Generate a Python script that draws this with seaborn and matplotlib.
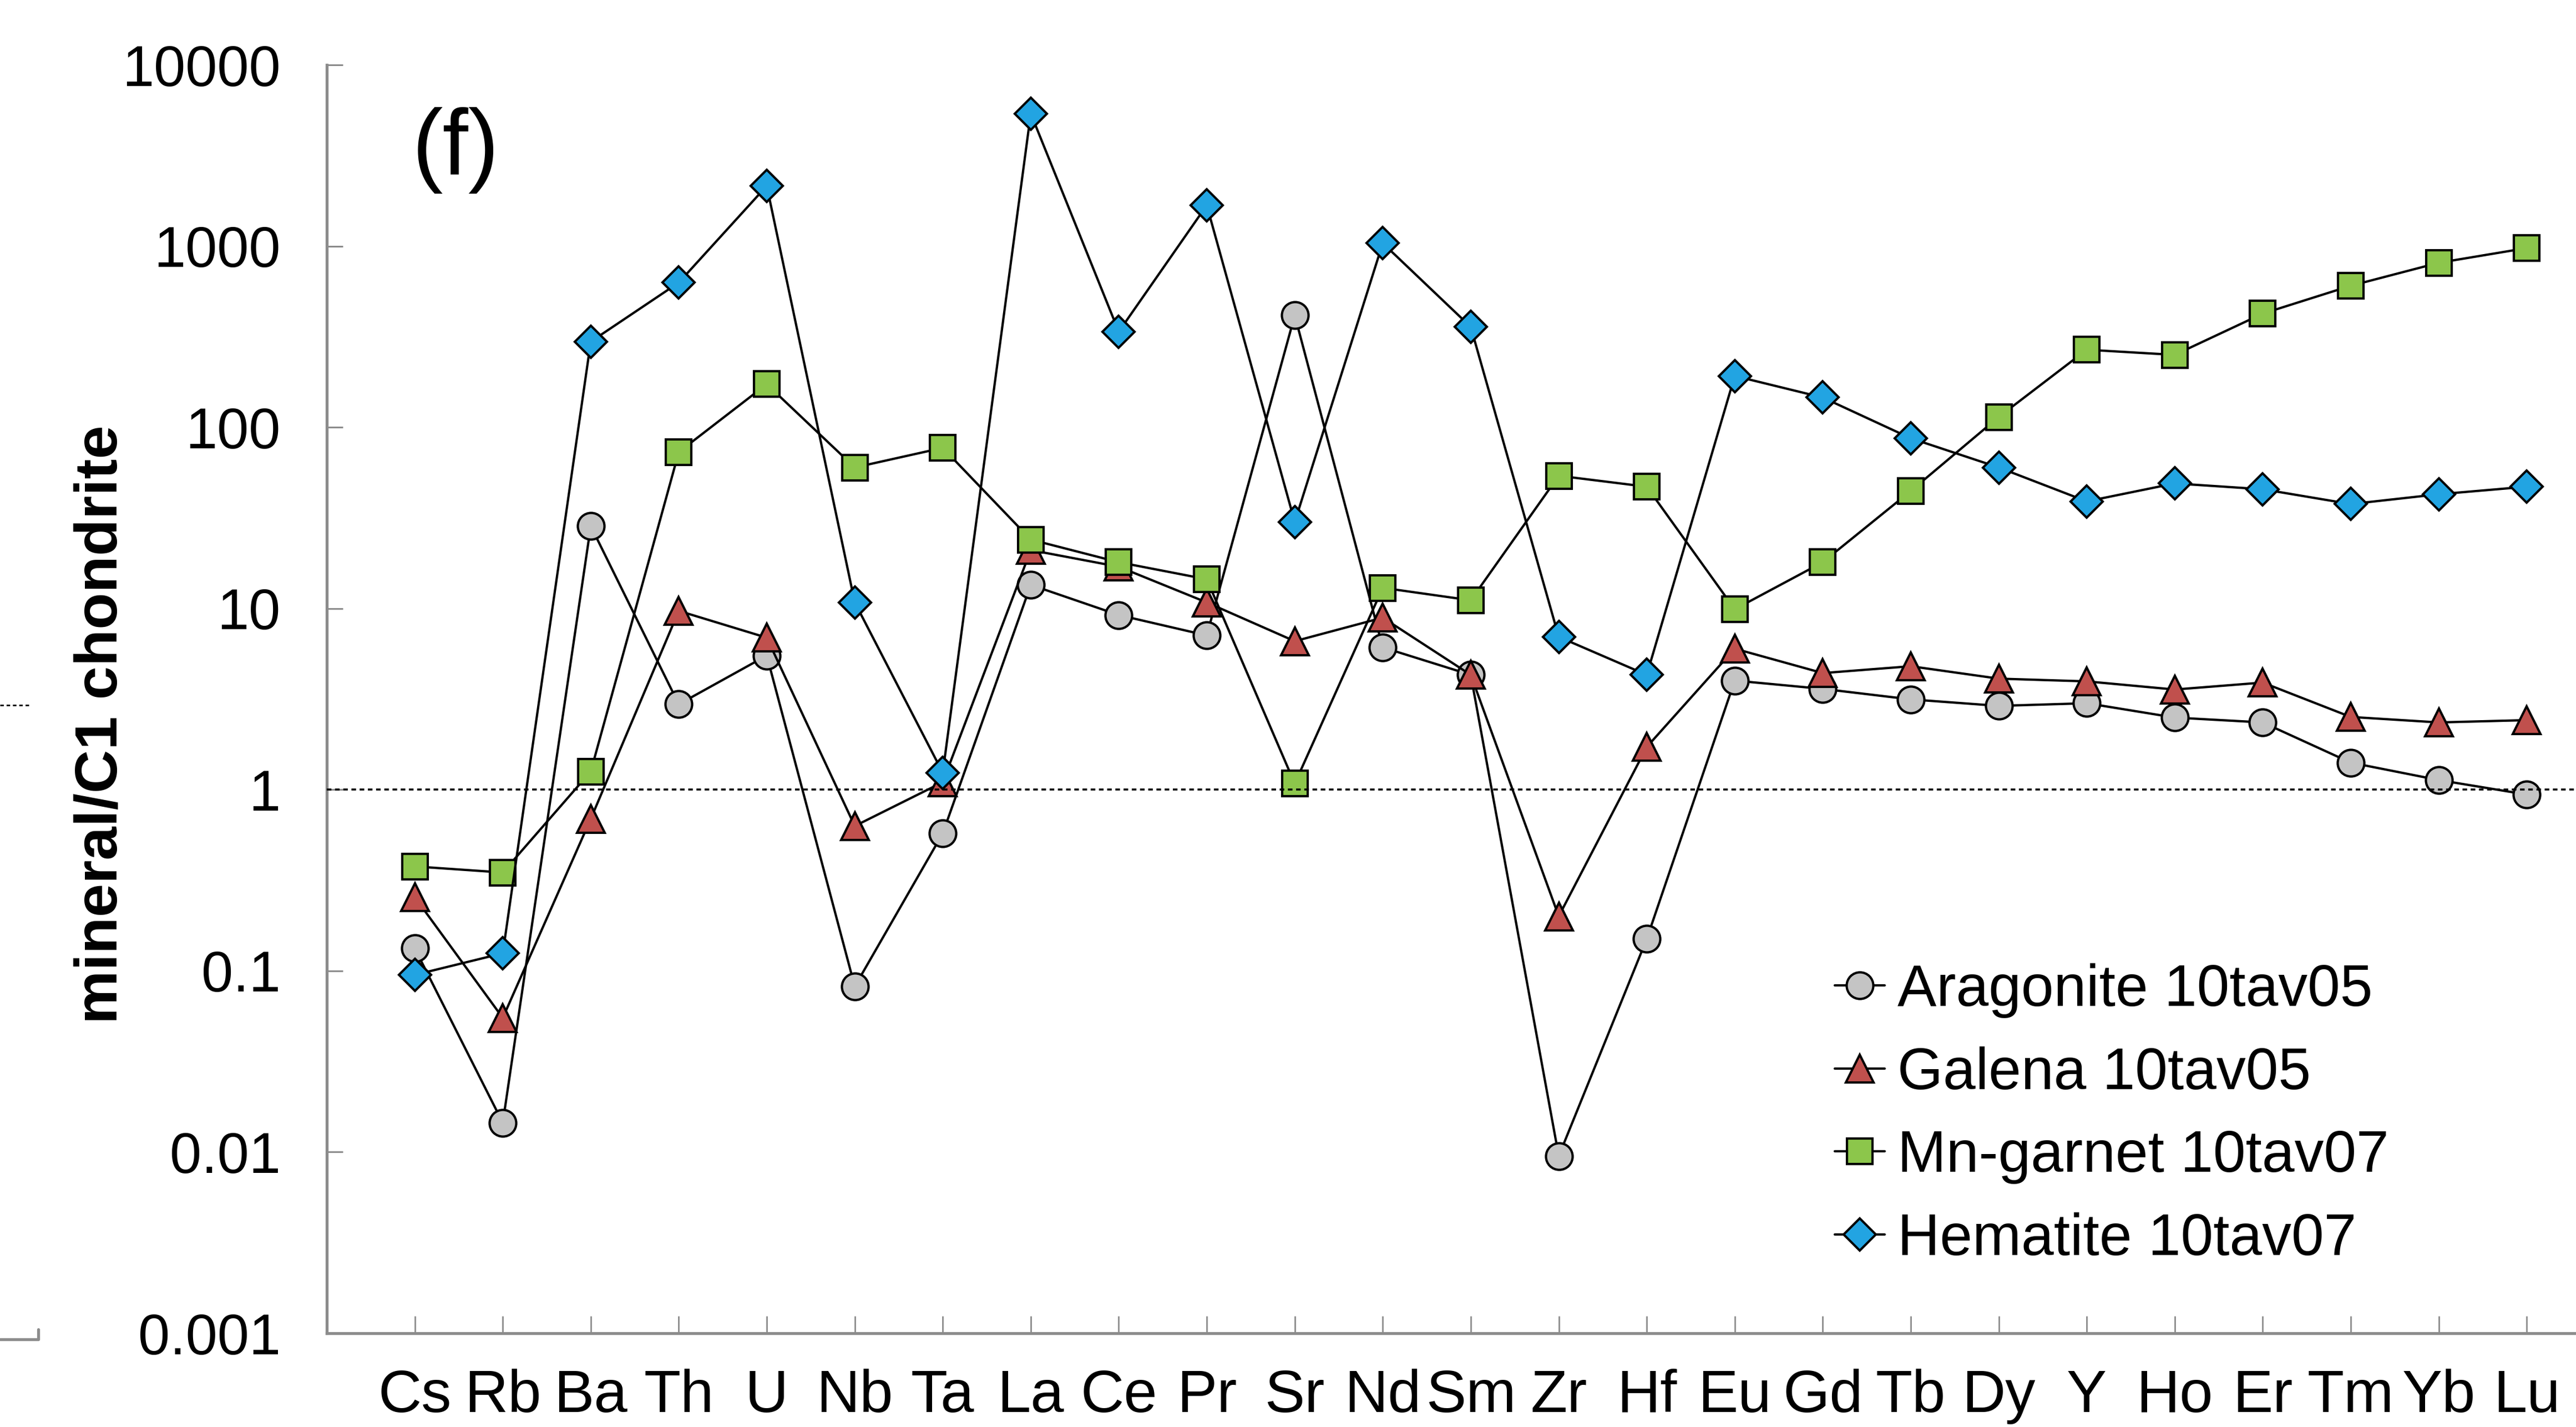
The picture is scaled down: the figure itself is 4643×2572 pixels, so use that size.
import numpy as np
import pandas as pd
import matplotlib
matplotlib.use("Agg")
import matplotlib.pyplot as plt
from matplotlib.lines import Line2D
import seaborn as sns

elements = ["Cs", "Rb", "Ba", "Th", "U", "Nb", "Ta", "La", "Ce", "Pr", "Sr", "Nd", "Sm",
            "Zr", "Hf", "Eu", "Gd", "Tb", "Dy", "Y", "Ho", "Er", "Tm", "Yb", "Lu"]

aragonite = [0.133, 0.0145, 28.5, 2.96, 5.5, 0.082, 0.574, 13.5, 9.2, 7.1, 415, 6.1, 4.3,
             0.0095, 0.15, 4.0, 3.6, 3.15, 2.9, 3.0, 2.5, 2.35, 1.41, 1.13, 0.94]
galena = [0.255, 0.055, 0.69, 9.7, 6.9, 0.63, 1.1, 21, 17, 10.8, 6.6, 8.9, 4.3,
          0.2, 1.72, 6.0, 4.4, 4.8, 4.1, 3.96, 3.57, 3.9, 2.52, 2.35, 2.42]
mn_garnet = [0.377, 0.349, 1.26, 73, 173, 60, 77, 24, 18, 14.5, 1.08, 13.0, 11.1,
             54, 47, 9.9, 18, 44.5, 114, 268, 251, 424, 604, 809, 975]
hematite = [0.095, 0.125, 297, 629, 2150, 10.8, 1.24, 5390, 337, 1680, 30, 1038, 358,
            6.97, 4.3, 192, 146, 87, 60, 39, 49, 45.5, 37.7, 42.7, 47]

series_names = ["Aragonite 10tav05", "Galena 10tav05", "Mn-garnet 10tav07", "Hematite 10tav07"]
series_values = [aragonite, galena, mn_garnet, hematite]
series_colors = ["#c4c4c4", "#c0504d", "#8cc64b", "#22a4e2"]
series_markers = ["o", "^", "s", "D"]
series_msizes = [17.3, 18.0, 16.6, 14.6]

ytick_vals = [0.001, 0.01, 0.1, 1, 10, 100, 1000, 10000]
ytick_labels = ["0.001", "0.01", "0.1", "1", "10", "100", "1000", "10000"]

sns.set_theme(style="white")
plt.rcParams["font.family"] = ["Liberation Sans", "DejaVu Sans"]
plt.rcParams["text.color"] = "black"
plt.rcParams["axes.labelcolor"] = "black"
plt.rcParams["xtick.labelcolor"] = "black"
plt.rcParams["ytick.labelcolor"] = "black"

W, H, DPI = 4643, 2572, 200
fig = plt.figure(figsize=(W / DPI, H / DPI), dpi=DPI)
ax = fig.add_axes([589 / W, 1 - 2403 / H, 1 - 589 / W, (2403 - 117) / H])

x = np.arange(len(elements))
for name, vals, col, mk, ms in zip(series_names, series_values, series_colors,
                                   series_markers, series_msizes):
    df = pd.DataFrame({"x": x, "y": vals})
    sns.lineplot(data=df, x="x", y="y", ax=ax, color="black", linewidth=1.5,
                 marker=mk, markersize=ms, markerfacecolor=col,
                 markeredgecolor="black", markeredgewidth=1.5, label=name,
                 zorder=3)

ax.axhline(1, color="black", linewidth=1.3, linestyle=(0, (2.3, 1.8)), zorder=5)

ax.set_yscale("log")
ax.set_ylim(0.001, 10000)
ax.set_xlim(-1, 24.56)
ax.set_yticks(ytick_vals)
ax.set_yticklabels(ytick_labels)
ax.yaxis.set_minor_locator(matplotlib.ticker.NullLocator())
ax.set_xticks(x)
ax.set_xticklabels(elements)
ax.set_xlabel("")
ax.set_ylabel("")

for s in ["top", "right"]:
    ax.spines[s].set_visible(False)
for s in ["left", "bottom"]:
    ax.spines[s].set_color("#8c8c8c")
    ax.spines[s].set_linewidth(1.9)

ax.tick_params(axis="y", direction="in", length=10.5, width=1.1, color="#8c8c8c",
               labelsize=37, pad=30, left=True, labelcolor="black")
ax.tick_params(axis="x", direction="in", length=11, width=1.0, color="#8c8c8c",
               labelsize=39, pad=23, bottom=True, labelcolor="black")

fig.text(183 / W, 1 - 1306 / H, "mineral/C1 chondrite", rotation=90, ha="center",
         va="center", fontsize=39, fontweight="bold", color="black")

ax.text(743 / W, 1 - 271 / H, "(f)", transform=fig.transFigure, ha="left",
        va="center", fontsize=60, color="black")

leg = ax.legend(loc="upper left", bbox_to_anchor=(3307 / W, 1 - 1736 / H),
                bbox_transform=fig.transFigure, frameon=False, fontsize=38,
                handlelength=0.85, handletextpad=0.22, labelspacing=0.48,
                borderpad=0, borderaxespad=0)
for t in leg.get_texts():
    t.set_color("black")

# fragments of the neighbouring panel at the left edge
fig.add_artist(Line2D([0, 54 / W], [1 - 1271 / H, 1 - 1271 / H], color="black",
                      linewidth=1.0, linestyle=(0, (2.3, 1.8)), transform=fig.transFigure))
fig.add_artist(Line2D([0, 69 / W, 69 / W], [1 - 2414 / H, 1 - 2414 / H, 1 - 2396 / H],
                      color="#8c8c8c", linewidth=1.9, transform=fig.transFigure))

fig.savefig("out.png", dpi=DPI)
